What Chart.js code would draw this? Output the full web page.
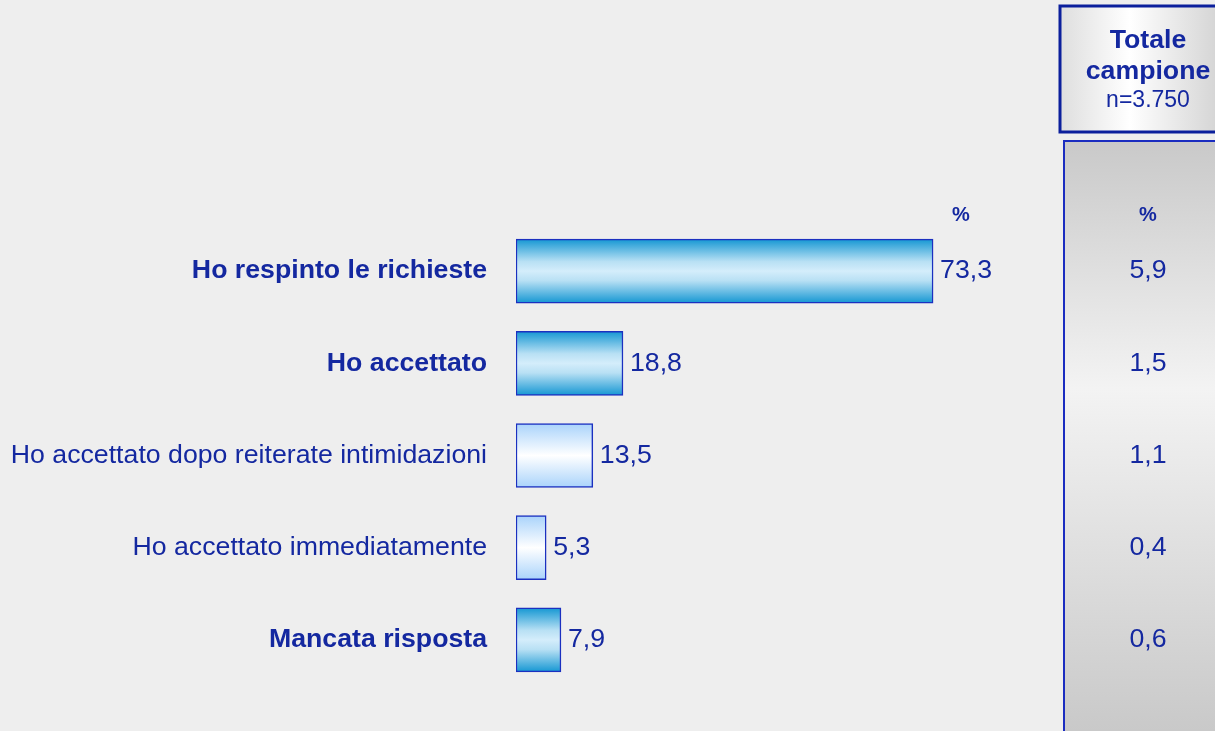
<!DOCTYPE html>
<html>
<head>
<meta charset="utf-8">
<script src="https://cdn.jsdelivr.net/npm/chart.js@4/dist/chart.umd.min.js"></script>
<style>
html,body{margin:0;padding:0;background:#eeeeee;}
#wrap{width:1215px;height:731px;position:relative;}
</style>
</head>
<body>
<div id="wrap"><canvas id="c" width="1215" height="731"></canvas></div>
<script>
const categories = [
  "Ho respinto le richieste",
  "Ho accettato",
  "Ho accettato dopo reiterate intimidazioni",
  "Ho accettato immediatamente",
  "Mancata risposta"
];
const boldLabels = [true, true, false, false, true];
const values = [73.3, 18.8, 13.5, 5.3, 7.9];
const totalValues = [5.9, 1.5, 1.1, 0.4, 0.6];
const headerTitle = ["Totale", "campione"];
const headerSub = "n=3.750";
const unitLabel = "%";

const TXT = "#1428a0";
const FONT = "'Liberation Sans', Arial, sans-serif";
const BAR_H = 64;
const fmt = v => v.toFixed(1).replace(".", ",");

function barGradient(ctx) {
  const chart = ctx.chart;
  const ys = chart.scales.y;
  const i = ctx.dataIndex;
  if (!ys || i === undefined) return "#cfe9f8";
  const cy = ys.getPixelForValue(i);
  if (!isFinite(cy)) return boldLabels[i] ? "#8ccbea" : "#dcedfd";
  const g = chart.ctx.createLinearGradient(0, cy - BAR_H / 2, 0, cy + BAR_H / 2);
  if (boldLabels[i]) {
    g.addColorStop(0, "#1597d3");
    g.addColorStop(0.35, "#b8e0f4");
    g.addColorStop(0.5, "#d4edfb");
    g.addColorStop(0.65, "#b8e0f4");
    g.addColorStop(1, "#1597d3");
  } else {
    g.addColorStop(0, "#a9d3fb");
    g.addColorStop(0.5, "#ffffff");
    g.addColorStop(1, "#a9d3fb");
  }
  return g;
}

const panelPlugin = {
  id: "panel",
  beforeDraw(chart) {
    const c = chart.ctx;
    c.save();
    c.fillStyle = "#eeeeee";
    c.fillRect(0, 0, chart.width, chart.height);
    const gx = 1064, gy = 141;
    const g = c.createLinearGradient(0, gy, 0, chart.height);
    g.addColorStop(0, "#c9c9c9");
    g.addColorStop(0.42, "#f3f3f3");
    g.addColorStop(1, "#c9c9c9");
    c.fillStyle = g;
    c.fillRect(gx, gy, chart.width - gx, chart.height - gy);
    c.strokeStyle = "#1a2cc0";
    c.lineWidth = 2;
    c.beginPath();
    c.moveTo(gx, chart.height);
    c.lineTo(gx, gy);
    c.lineTo(chart.width + 2, gy);
    c.stroke();
    const bx = 1060, by = 6, bw = 160, bh = 126;
    const hg = c.createLinearGradient(bx, 0, bx + bw - 5, 0);
    hg.addColorStop(0, "#dedede");
    hg.addColorStop(0.45, "#ffffff");
    hg.addColorStop(1, "#d6d6d6");
    c.fillStyle = hg;
    c.fillRect(bx, by, bw, bh);
    c.strokeStyle = "#0b1f9c";
    c.lineWidth = 3;
    c.strokeRect(bx, by, bw, bh);
    c.fillStyle = TXT;
    c.textAlign = "center";
    c.textBaseline = "middle";
    c.font = "bold 26.7px " + FONT;
    c.fillText(headerTitle[0], 1148, 41);
    c.fillText(headerTitle[1], 1148, 72);
    c.font = "23px " + FONT;
    c.fillText(headerSub, 1148, 101);
    c.restore();
  },
  afterDatasetsDraw(chart) {
    const c = chart.ctx;
    const xs = chart.scales.x, ys = chart.scales.y;
    c.save();
    c.fillStyle = TXT;
    c.textBaseline = "middle";
    c.font = "bold 20px " + FONT;
    c.textAlign = "center";
    c.fillText(unitLabel, 961, 215);
    c.fillText(unitLabel, 1148, 215);
    categories.forEach((lab, i) => {
      const y = ys.getPixelForValue(i);
      c.font = (boldLabels[i] ? "bold " : "") + "26.7px " + FONT;
      c.textAlign = "right";
      c.fillText(lab, xs.left - 29, y);
      c.font = "26.7px " + FONT;
      c.textAlign = "left";
      c.fillText(fmt(values[i]), xs.getPixelForValue(values[i]) + 7, y);
      c.textAlign = "center";
      c.fillText(fmt(totalValues[i]), 1148, y);
    });
    c.restore();
  }
};

new Chart(document.getElementById("c"), {
  type: "bar",
  data: {
    labels: categories,
    datasets: [{
      data: values,
      backgroundColor: barGradient,
      borderColor: "#1b30c0",
      borderWidth: 1.5,
      borderSkipped: false,
      barThickness: BAR_H
    }]
  },
  options: {
    indexAxis: "y",
    responsive: false,
    animation: false,
    layout: { padding: { left: 516, right: 130, top: 225, bottom: 45 } },
    scales: {
      x: { display: false, min: 0, max: 100 },
      y: { display: false }
    },
    plugins: { legend: { display: false }, tooltip: { enabled: false } }
  },
  plugins: [panelPlugin]
});
</script>
</body>
</html>
